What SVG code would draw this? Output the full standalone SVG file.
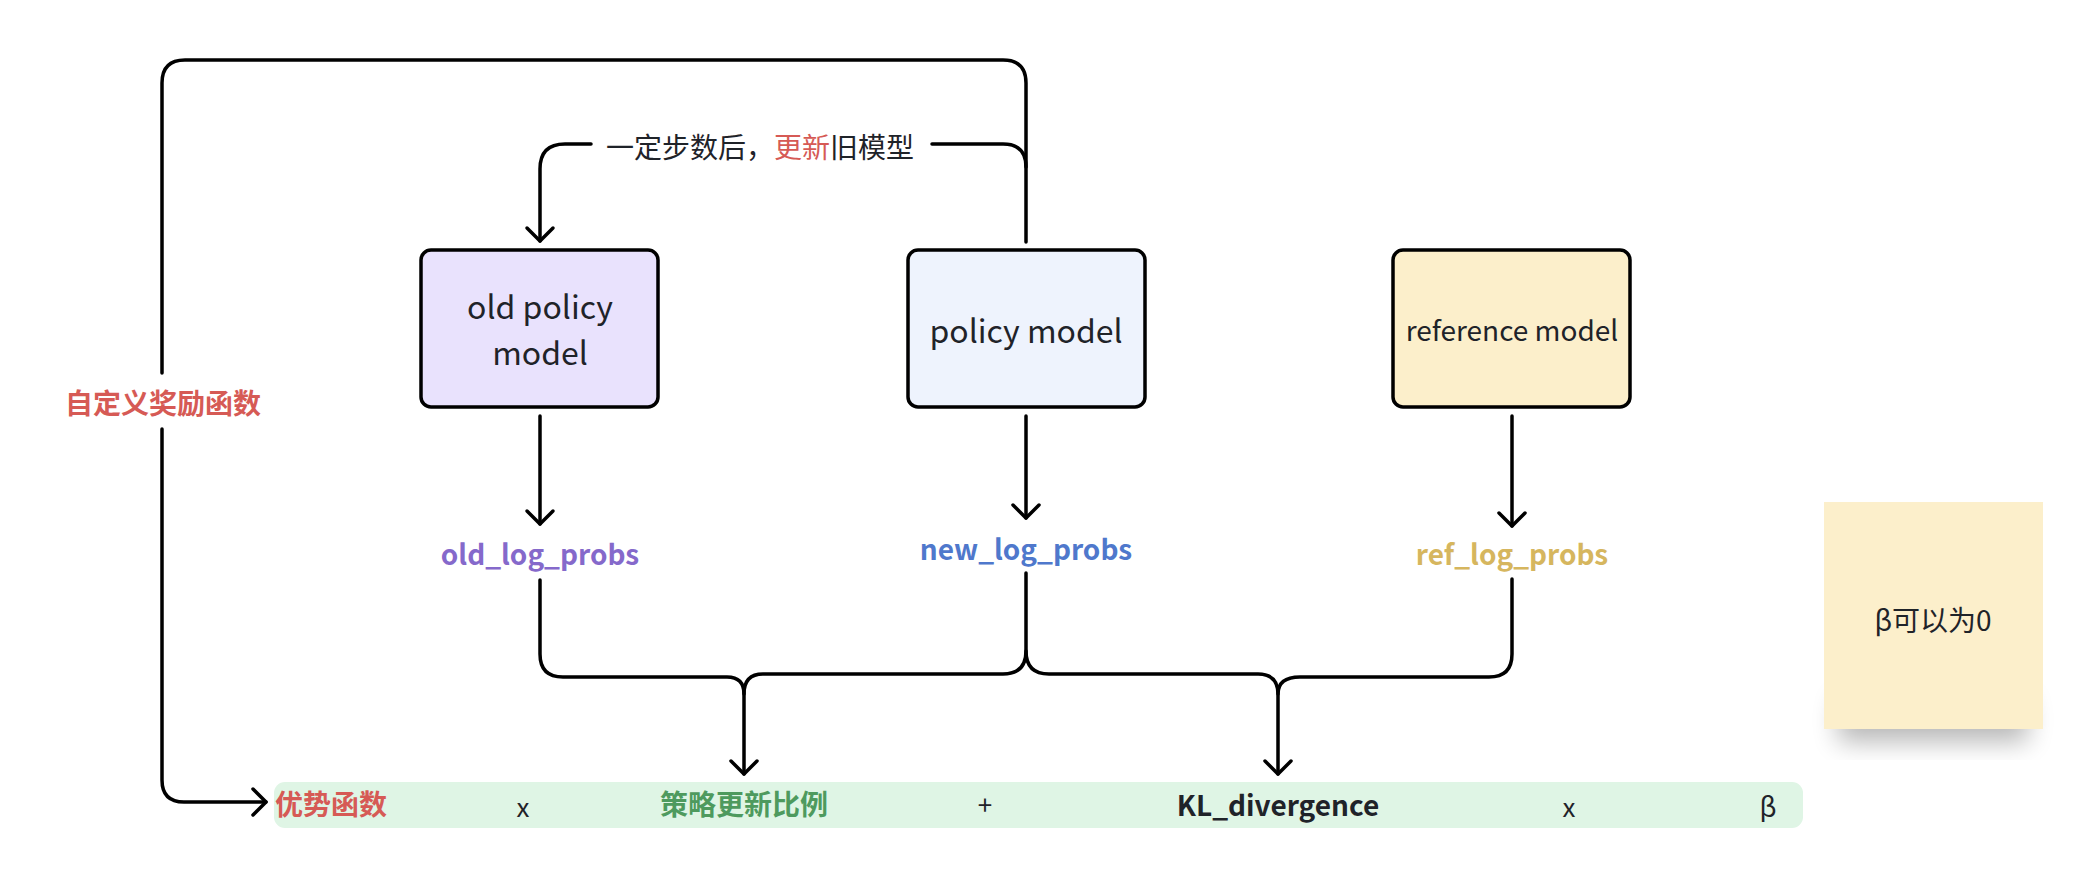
<svg xmlns="http://www.w3.org/2000/svg" width="2092" height="878" viewBox="0 0 2092 878">
<style>
.t{font-family:"Noto Sans CJK SC","Noto Sans","Liberation Sans",sans-serif;fill:#1f2329;dominant-baseline:central;text-anchor:middle}
.b{font-weight:bold}
.box{stroke:#000;stroke-width:3.5}
.ln{fill:none;stroke:#000;stroke-width:3.5;stroke-linecap:round;stroke-linejoin:round}
</style>
<defs>
<marker id="arr" viewBox="-17 -16 20 32" refX="0" refY="0" markerWidth="20" markerHeight="32" markerUnits="userSpaceOnUse" orient="auto">
<path d="M-13,-13 L0,0 L-13,13" fill="none" stroke="#000" stroke-width="3.5" stroke-linecap="round" stroke-linejoin="round"/>
</marker>
<filter id="sh" x="-30%" y="-40%" width="160%" height="180%">
<feGaussianBlur stdDeviation="13"/>
</filter>
</defs>
<rect width="2092" height="878" fill="#fff"/>

<g id="connectors">
<path class="ln" d="M1026,242 V83 Q1026,60 1003,60 H185 Q162,60 162,83 V373"/>
<path class="ln" d="M162,429 V780 Q162,802 184,802 H266" marker-end="url(#arr)"/>
<path class="ln" d="M591,144 H565 Q540,144 540,169 V241" marker-end="url(#arr)"/>
<path class="ln" d="M932,144 H1003 Q1026,144 1026,167"/>
<path class="ln" d="M540,416 V524" marker-end="url(#arr)"/>
<path class="ln" d="M1026,416 V518" marker-end="url(#arr)"/>
<path class="ln" d="M1512,416 V526" marker-end="url(#arr)"/>
<path class="ln" d="M540,580 V654 Q540,677 563,677 H727 Q744,677 744,694 V774" marker-end="url(#arr)"/>
<path class="ln" d="M1026,573 V651 Q1026,674 1003,674 H763 Q744,674 744,694"/>
<path class="ln" d="M1026,651 Q1026,674 1049,674 H1258 Q1278,674 1278,694 V774" marker-end="url(#arr)"/>
<path class="ln" d="M1512,579 V654 Q1512,677 1489,677 H1300 Q1278,677 1278,694"/>
</g>

<g id="label-update">
<text class="t" x="760" y="146" font-size="28">一定步数后，<tspan style="fill:#d65a55">更新</tspan>旧模型</text>
</g>
<g id="label-reward">
<text class="t b" x="163" y="402" font-size="28" style="fill:#d65a55">自定义奖励函数</text>
</g>

<g id="old-policy">
<rect class="box" x="421" y="250" width="237" height="157" rx="10" fill="#e9e2fd"/>
<text class="t" x="540" y="305" font-size="32">old policy</text>
<text class="t" x="540" y="351" font-size="32">model</text>
</g>
<g id="policy">
<rect class="box" x="908" y="250" width="237" height="157" rx="10" fill="#eef3fd"/>
<text class="t" x="1026" y="329" font-size="32">policy model</text>
</g>
<g id="reference">
<rect class="box" x="1393" y="250" width="237" height="157" rx="10" fill="#fcefcb"/>
<text class="t" x="1512" y="329" font-size="28">reference model</text>
</g>

<g id="old-log-probs"><text class="t b" x="540" y="553" font-size="28" style="fill:#8569cb">old_log_probs</text></g>
<g id="new-log-probs"><text class="t b" x="1026" y="548" font-size="28" style="fill:#4f78cc">new_log_probs</text></g>
<g id="ref-log-probs"><text class="t b" x="1512" y="553" font-size="28" style="fill:#d6b65e">ref_log_probs</text></g>

<g id="formula">
<rect x="274" y="782" width="1529" height="46" rx="11" fill="#dff5e5"/>
<text class="t b" x="331" y="803" font-size="28" style="fill:#d65a55">优势函数</text>
<text class="t" x="523" y="805" font-size="26">x</text>
<text class="t b" x="744" y="803" font-size="28" style="fill:#4e9a5e">策略更新比例</text>
<text class="t" x="985" y="803" font-size="26">+</text>
<text class="t b" x="1278" y="804" font-size="28">KL_divergence</text>
<text class="t" x="1569" y="805" font-size="26">x</text>
<text class="t" x="1768" y="805" font-size="27">β</text>
</g>

<g id="note">
<rect x="1838" y="698" width="190" height="44" fill="#000" opacity="0.28" filter="url(#sh)"/>
<rect x="1824" y="502" width="219" height="227" fill="#fcefcb"/>
<text class="t" x="1933" y="619" font-size="28">β可以为0</text>
</g>
</svg>
